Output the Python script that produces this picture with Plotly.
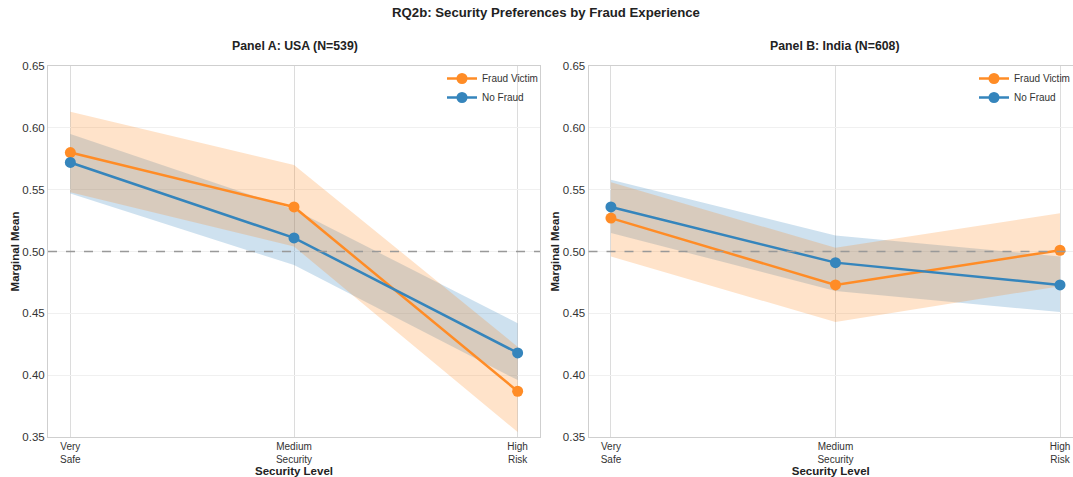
import plotly.graph_objects as go

# Security levels (x categories)
levels = ["Very<br>Safe", "Medium<br>Security", "High<br>Risk"]

# Panel A: USA (N=539)
usa_victim_mean = [0.580, 0.536, 0.387]
usa_victim_lo = [0.548, 0.504, 0.354]
usa_victim_hi = [0.613, 0.570, 0.423]
usa_nofraud_mean = [0.572, 0.511, 0.418]
usa_nofraud_lo = [0.547, 0.489, 0.396]
usa_nofraud_hi = [0.595, 0.534, 0.442]

# Panel B: India (N=608)
ind_victim_mean = [0.527, 0.473, 0.501]
ind_victim_lo = [0.496, 0.443, 0.472]
ind_victim_hi = [0.556, 0.503, 0.531]
ind_nofraud_mean = [0.536, 0.491, 0.473]
ind_nofraud_lo = [0.515, 0.468, 0.451]
ind_nofraud_hi = [0.558, 0.513, 0.496]

y_ticks = [0.35, 0.40, 0.45, 0.50, 0.55, 0.60, 0.65]

FONT = "Liberation Sans, Arial, sans-serif"
ORANGE = "#ff8c26"
BLUE = "#3585bc"
ORANGE_FILL = "rgba(255,127,14,0.22)"
BLUE_FILL = "rgba(31,119,180,0.22)"

x_pos = list(range(len(levels)))

fig = go.Figure()


def add_band(xa, ya, lo, hi, fill_color):
    fig.add_trace(go.Scatter(x=x_pos, y=hi, xaxis=xa, yaxis=ya, mode="lines",
                             line=dict(width=0, color=fill_color),
                             showlegend=False, hoverinfo="skip"))
    fig.add_trace(go.Scatter(x=x_pos, y=lo, xaxis=xa, yaxis=ya, mode="lines",
                             line=dict(width=0, color=fill_color),
                             fill="tonexty", fillcolor=fill_color,
                             showlegend=False, hoverinfo="skip"))


def add_line(xa, ya, mean, name, color, legend):
    fig.add_trace(go.Scatter(x=x_pos, y=mean, xaxis=xa, yaxis=ya,
                             mode="lines+markers", name=name,
                             line=dict(color=color, width=2.5),
                             marker=dict(color=color, size=11),
                             legend=legend))


panels = [
    ("x", "y", "legend",
     (usa_victim_mean, usa_victim_lo, usa_victim_hi),
     (usa_nofraud_mean, usa_nofraud_lo, usa_nofraud_hi)),
    ("x2", "y2", "legend2",
     (ind_victim_mean, ind_victim_lo, ind_victim_hi),
     (ind_nofraud_mean, ind_nofraud_lo, ind_nofraud_hi)),
]

for xa, ya, lg, victim, nofraud in panels:
    # confidence bands first, then the mean lines on top
    add_band(xa, ya, nofraud[1], nofraud[2], BLUE_FILL)
    add_band(xa, ya, victim[1], victim[2], ORANGE_FILL)
    add_line(xa, ya, victim[0], "Fraud Victim", ORANGE, lg)
    add_line(xa, ya, nofraud[0], "No Fraud", BLUE, lg)

W, H = 1073, 477
ML, MR, MT, MB = 48, 0, 66, 40
pw = W - ML - MR
ph = H - MT - MB
dom_a = [0, (540 - ML) / pw]
dom_b = [(588.5 - ML) / pw, 1.0]

xaxis_common = dict(
    tickmode="array", tickvals=x_pos, ticktext=levels,
    showgrid=True, gridcolor="#dcdcdc", gridwidth=1,
    showline=True, linecolor="#cfcfcf", linewidth=1, mirror=True,
    ticks="", zeroline=False,
    tickfont=dict(family=FONT, size=10, color="#333333"),
    title=dict(text="<b>Security Level</b>", standoff=2,
               font=dict(family=FONT, size=11.5, color="#222222")),
)
yaxis_common = dict(
    range=[0.35, 0.65], tickvals=y_ticks, tickformat=".2f",
    showgrid=True, gridcolor="#f0f0f0", gridwidth=1,
    showline=True, linecolor="#cfcfcf", linewidth=1,
    ticks="", zeroline=False,
    tickfont=dict(family=FONT, size=11.5, color="#333333"),
    title=dict(text="<b>Marginal Mean</b>", standoff=0,
               font=dict(family=FONT, size=11.5, color="#222222")),
)

legend_common = dict(
    font=dict(family=FONT, size=10, color="#333333"),
    bgcolor="rgba(255,255,255,0)", borderwidth=0,
    xanchor="left", yanchor="top", itemwidth=30, tracegroupgap=0,
    traceorder="normal",
)

fig.update_layout(
    width=W, height=H,
    margin=dict(l=ML, r=MR, t=MT, b=MB, autoexpand=False),
    paper_bgcolor="white", plot_bgcolor="white",
    font=dict(family=FONT, color="#333333"),
    title=dict(text="<b>RQ2b: Security Preferences by Fraud Experience</b>",
               xref="container", x=546 / W, xanchor="center",
               y=1 - 12 / H, yanchor="middle",
               font=dict(family=FONT, size=13.2, color="#222222")),
    xaxis=dict(xaxis_common, domain=dom_a, range=[-0.1, 2.1], anchor="y"),
    xaxis2=dict(xaxis_common, domain=dom_b,
                range=[-0.1, (W - 611) / 224.5], anchor="y2"),
    yaxis=dict(yaxis_common, domain=[0, 1], anchor="x", mirror=True),
    yaxis2=dict(yaxis_common, domain=[0, 1], anchor="x2"),
    legend=dict(legend_common, x=(442 - ML) / pw, y=1 + 2 / ph),
    legend2=dict(legend_common, x=(974 - ML) / pw, y=1 + 2 / ph),
    showlegend=True,
    hovermode=False,
)

# reference line at 0.5 in both panels
for xr, yr in (("x", "y"), ("x2", "y2")):
    fig.add_shape(type="line", xref=f"{xr} domain", yref=yr,
                  x0=0, x1=1, y0=0.5, y1=0.5,
                  line=dict(color="#999999", width=1.3, dash="dash"),
                  layer="above")

# panel titles
for text, xc in (("<b>Panel A: USA (N=539)</b>", 295),
                 ("<b>Panel B: India (N=608)</b>", 835)):
    fig.add_annotation(text=text, xref="paper", yref="paper",
                       x=(xc - ML) / pw, y=1 + 20 / ph,
                       xanchor="center", yanchor="middle", showarrow=False,
                       font=dict(family=FONT, size=12.3, color="#222222"))

fig.write_html("out.html")
